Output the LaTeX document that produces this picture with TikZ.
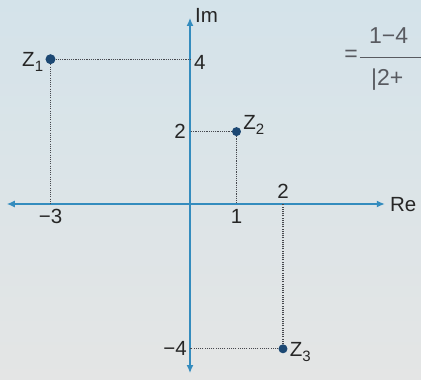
\documentclass[tikz,border=0pt]{standalone}
\usepackage{fontspec}
\setmainfont{Liberation Sans}
\usetikzlibrary{arrows.meta,positioning}
\definecolor{axisblue}{RGB}{52,140,190}
\definecolor{dotnavy}{RGB}{28,72,115}
\definecolor{paperA}{RGB}{212,227,234}
\definecolor{paperB}{RGB}{228,229,229}
\definecolor{inkgray}{RGB}{70,72,78}
\newcommand{\zsub}[1]{Z\raisebox{-5pt}{\fontsize{15}{16}\selectfont #1}}

\begin{document}
\begin{tikzpicture}[x=46.5pt,y=36.2pt,
  axis/.style={draw=axisblue,line width=1.4pt,
               {Latex[length=8pt,width=7pt]}-{Latex[length=8pt,width=7pt]}},
  guide/.style={draw=inkgray,line width=1.1pt,dash pattern=on 1.1pt off 1.1pt},
  pt/.style={circle,fill=dotnavy,inner sep=0pt,minimum size=10pt},
  lab/.style={font=\fontsize{20.5}{22}\selectfont,text=black!85,inner sep=2pt},
  hand/.style={font=\fontsize{23}{25}\selectfont,text=inkgray!90,inner sep=0pt}
]
\shade[top color=paperA,bottom color=paperB] (-190pt,-176pt) rectangle (231pt,204pt);
\useasboundingbox (-190pt,-176pt) rectangle (231pt,204pt);

% axes
\coordinate (xl) at (-3.94,0);
\coordinate (xr) at (4.19,0);
\coordinate (yb) at (0,-4.67);
\coordinate (yt) at (0,5.14);
\draw[axis] (xl)--(xr);
\draw[axis] (yb)--(yt);
\node[lab,right=3pt of xr,yshift=-1pt] (re) {Re};
\node[lab,right=3pt of yt,yshift=2pt] (im) {Im};

% feet on the axes
\coordinate (xm3) at (-3,0);
\coordinate (x1) at (1,0);
\coordinate (x2) at (2,0);
\coordinate (y4) at (0,4);
\coordinate (y2) at (0,2);
\coordinate (ym4) at (0,-4);

% points
\node[pt] (z1) at (-3,4) {};
\node[pt,minimum size=9pt] (z2) at (1,2) {};
\node[pt,minimum size=9pt] (z3) at (2,-4) {};

\draw[guide] (z1)--(y4);
\draw[guide] (z1)--(xm3);
\draw[guide] (z2)--(y2);
\draw[guide] (z2)--(x1);
\draw[guide] (z3)--(ym4);
\draw[guide] (z3)--(x2);

\node[lab,left=0pt of z1,yshift=-3pt] (lz1) {\zsub{1}};
\node[lab,right=0pt of z2,yshift=7pt] (lz2) {\zsub{2}};
\node[lab,right=0pt of z3,yshift=-3pt] (lz3) {\zsub{3}};

\node[lab,right=2pt of y4,yshift=-3pt] (l4) {4};
\node[lab,left=2pt of y2] (l2) {2};
\node[lab,left=1pt of ym4] (lm4) {−4};
\node[lab,below=3pt of xm3] (lm3) {−3};
\node[lab,below=3pt of x1] (l1) {1};
\node[lab,above=3pt of x2] (lx2) {2};

% handwriting at the edge of the page
\node[hand] (eq) at (161pt,148pt) {=};
\coordinate (barl) at (170pt,147pt);
\coordinate (barr) at (231pt,147pt);
\draw[inkgray!90,line width=0.8pt] (barl)--(barr);
\node[hand,anchor=west] (num) at (179pt,168pt) {1−4};
\node[hand,anchor=west] (den) at (181pt,124pt) {|2+};
\end{tikzpicture}
\end{document}
